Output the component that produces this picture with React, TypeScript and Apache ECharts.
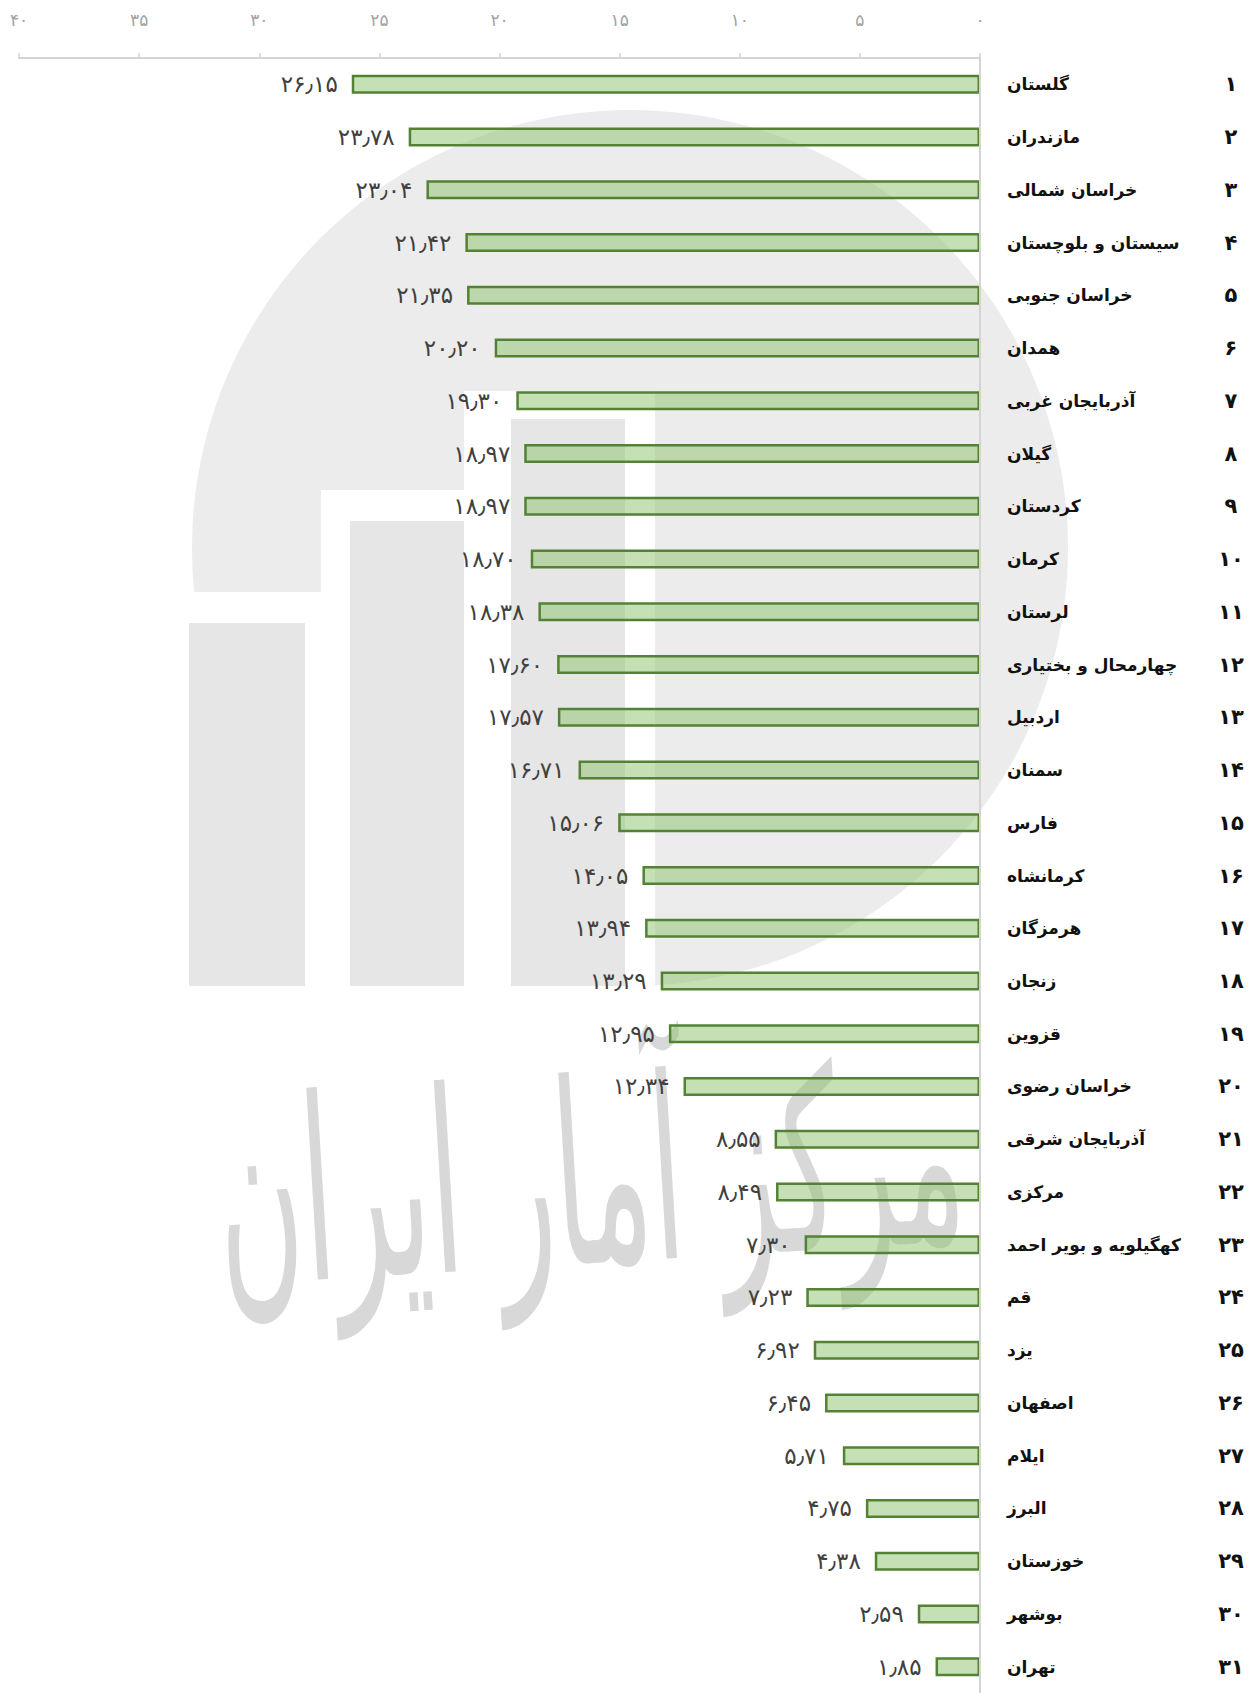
import React, { useEffect, useRef } from "react";
import * as echarts from "echarts";

const provinces: string[] = [
  "گلستان",
  "مازندران",
  "خراسان شمالی",
  "سیستان و بلوچستان",
  "خراسان جنوبی",
  "همدان",
  "آذربایجان غربی",
  "گیلان",
  "کردستان",
  "کرمان",
  "لرستان",
  "چهارمحال و بختیاری",
  "اردبیل",
  "سمنان",
  "فارس",
  "کرمانشاه",
  "هرمزگان",
  "زنجان",
  "قزوین",
  "خراسان رضوی",
  "آذربایجان شرقی",
  "مرکزی",
  "کهگیلویه و بویر احمد",
  "قم",
  "یزد",
  "اصفهان",
  "ایلام",
  "البرز",
  "خوزستان",
  "بوشهر",
  "تهران",
];

const values: number[] = [
  26.15, 23.78, 23.04, 21.42, 21.35, 20.2, 19.3, 18.97, 18.97, 18.7, 18.38,
  17.6, 17.57, 16.71, 15.06, 14.05, 13.94, 13.29, 12.95, 12.34, 8.55, 8.49,
  7.3, 7.23, 6.92, 6.45, 5.71, 4.75, 4.38, 2.59, 1.85,
];

const ranks: string[] = [
  "۱", "۲", "۳", "۴", "۵", "۶", "۷", "۸", "۹", "۱۰", "۱۱", "۱۲", "۱۳", "۱۴", "۱۵", "۱۶",
  "۱۷", "۱۸", "۱۹", "۲۰", "۲۱", "۲۲", "۲۳", "۲۴", "۲۵", "۲۶", "۲۷", "۲۸", "۲۹", "۳۰", "۳۱",
];

const axisMin = 0;
const axisMax = 40;
const axisInterval = 5;

const watermarkText = "مرکز آمار ایران";

const FA_DIGITS = "۰۱۲۳۴۵۶۷۸۹";
const toFa = (s: string): string =>
  s.replace(/[0-9]/g, (d) => FA_DIGITS[Number(d)]).replace(".", "٫");

const FONT = "DejaVu Sans";

export default function App() {
  const ref = useRef<HTMLDivElement>(null);

  useEffect(() => {
    if (!ref.current) return;
    const chart = echarts.init(ref.current, null, { renderer: "svg" });

    // watermark logo (drawn beneath the series)
    const cx = 630;
    const cy = 548;
    const r = 438;
    const wm: any[] = [
      {
        type: "circle",
        z: -10,
        silent: true,
        shape: { cx, cy, r },
        style: { fill: "#ececec" },
      },
      {
        type: "polygon",
        z: -9,
        silent: true,
        shape: {
          points: [
            [170, 592],
            [321, 592],
            [321, 490],
            [464, 490],
            [464, 391],
            [655, 391],
            [655, 1000],
            [170, 1000],
          ],
        },
        style: { fill: "#ffffff" },
      },
      { type: "rect", z: -8, silent: true, shape: { x: 189, y: 623, width: 116, height: 363 }, style: { fill: "#e6e6e6" } },
      { type: "rect", z: -8, silent: true, shape: { x: 350, y: 521, width: 114, height: 465 }, style: { fill: "#e6e6e6" } },
      { type: "rect", z: -8, silent: true, shape: { x: 511, y: 419, width: 114, height: 567 }, style: { fill: "#e6e6e6" } },
      {
        type: "text",
        z: -8,
        silent: true,
        x: 590,
        y: 1175,
        scaleX: 1.05,
        scaleY: 2.3,
        rotation: 0.06,
        style: {
          text: watermarkText,
          font: `110px "${FONT}"`,
          fill: "#d8d8d8",
          align: "center",
          verticalAlign: "middle",
        },
      },
    ];

    const option: any = {
      animation: false,
      backgroundColor: "#ffffff",
      textStyle: { fontFamily: FONT },
      graphic: { elements: wm },
      grid: {
        left: 19,
        right: 273,
        top: 58,
        height: 1643.5,
        containLabel: false,
      },
      xAxis: {
        type: "value",
        position: "top",
        inverse: true,
        min: axisMin,
        max: axisMax,
        interval: axisInterval,
        z: 5,
        axisLine: { show: true, lineStyle: { color: "#d4d4d4", width: 2 } },
        axisTick: { show: true, length: 5, lineStyle: { color: "#d4d4d4", width: 1.5 } },
        splitLine: { show: false },
        axisLabel: {
          margin: 30,
          fontSize: 17,
          color: "#a3a3a3",
          fontFamily: FONT,
          formatter: (v: number) => toFa(String(v)),
        },
      },
      yAxis: [
        {
          type: "category",
          data: provinces,
          inverse: true,
          position: "right",
          z: 5,
          axisLine: { show: true, onZero: false, lineStyle: { color: "#d4d4d4", width: 2 } },
          axisTick: { show: false },
          splitLine: { show: false },
          axisLabel: {
            align: "left",
            margin: 27,
            fontSize: 17,
            fontWeight: "bold",
            color: "#111111",
            fontFamily: FONT,
          },
        },
        {
          type: "category",
          data: ranks,
          inverse: true,
          position: "right",
          z: 5,
          axisLine: { show: false, onZero: false },
          axisTick: { show: false },
          splitLine: { show: false },
          axisLabel: {
            align: "center",
            margin: 251,
            fontSize: 21,
            fontWeight: "bold",
            color: "#111111",
            fontFamily: FONT,
          },
        },
      ],
      series: [
        {
          type: "bar",
          yAxisIndex: 0,
          data: values,
          barWidth: 19,
          z: 3,
          itemStyle: {
            color: "rgba(139,193,105,0.5)",
            borderColor: "#548235",
            borderWidth: 2.5,
          },
          label: {
            show: true,
            position: "left",
            distance: 14,
            fontSize: 23,
            color: "#404040",
            fontFamily: FONT,
            formatter: (p: any) => toFa(Number(p.value).toFixed(2)),
          },
        },
      ],
    };

    chart.setOption(option);
    return () => chart.dispose();
  }, []);

  return (
    <div
      ref={ref}
      style={{ position: "absolute", left: 0, top: 0, width: 1253, height: 1693 }}
    />
  );
}
